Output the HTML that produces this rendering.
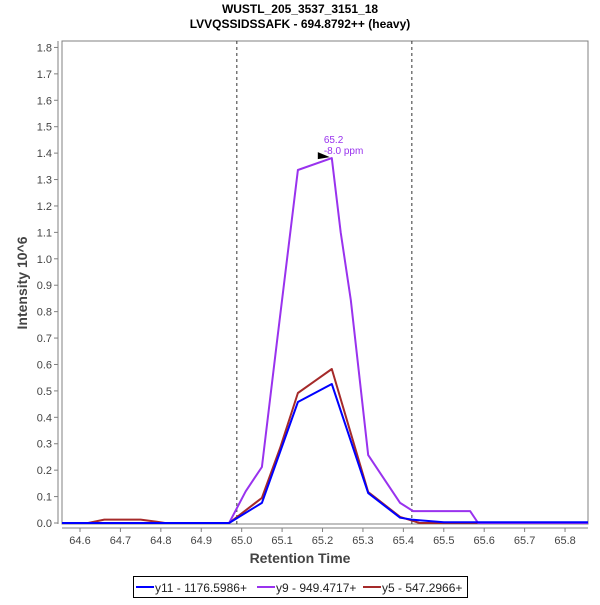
<!DOCTYPE html>
<html><head><meta charset="utf-8"><style>
body{margin:0;background:#fff;font-family:"Liberation Sans",sans-serif}
svg text{font-family:"Liberation Sans",sans-serif}
</style></head><body>
<svg id="chart" width="600" height="600" xmlns="http://www.w3.org/2000/svg">
<rect width="600" height="600" fill="#fff"/>
<text x="300" y="13" text-anchor="middle" font-size="12" font-weight="bold" fill="#000">WUSTL_205_3537_3151_18</text>
<text x="300" y="28" text-anchor="middle" font-size="12" font-weight="bold" fill="#000">LVVQSSIDSSAFK - 694.8792++ (heavy)</text>
<rect x="62" y="41" width="526" height="483" fill="none" stroke="#808080"/>
<g id="axes"></g>
<g id="series"></g>
<text x="300" y="563" text-anchor="middle" font-size="14" font-weight="bold" fill="#444">Retention Time</text>
<text transform="translate(27,283) rotate(-90)" text-anchor="middle" font-size="14" font-weight="bold" fill="#444">Intensity 10^6</text>
<g>
<rect x="133.5" y="576.5" width="334" height="21" fill="#fff" stroke="#000"/>
<line x1="136" y1="587" x2="154" y2="587" stroke="#0000ff" stroke-width="2"/>
<text x="155" y="592" font-size="12" fill="#222">y11 - 1176.5986+</text>
<line x1="257" y1="587" x2="275" y2="587" stroke="#9932ee" stroke-width="2"/>
<text x="276" y="592" font-size="12" fill="#222">y9 - 949.4717+</text>
<line x1="363" y1="587" x2="381" y2="587" stroke="#a52a2a" stroke-width="2"/>
<text x="382" y="592" font-size="12" fill="#222">y5 - 547.2966+</text>
</g>
</svg>
<script>
const xTicks=[64.6,64.7,64.8,64.9,65.0,65.1,65.2,65.3,65.4,65.5,65.6,65.7,65.8];
const yTicks=[0,0.1,0.2,0.3,0.4,0.5,0.6,0.7,0.8,0.9,1.0,1.1,1.2,1.3,1.4,1.5,1.6,1.7,1.8];
const boundaries=[64.988,65.421];
const y11Times=[64.55,64.969,65.05,65.139,65.223,65.313,65.392,65.424,65.50,65.9];
const y11Vals=[0,0,0.076,0.458,0.526,0.113,0.02,0.012,0.003,0.003];
const y9Times=[64.55,64.969,65.01,65.05,65.087,65.139,65.223,65.245,65.270,65.313,65.392,65.424,65.565,65.585,65.9];
const y9Vals=[0,0,0.12,0.212,0.681,1.336,1.381,1.10,0.844,0.257,0.076,0.045,0.045,0,0];
const y5Times=[64.55,64.62,64.66,64.75,64.79,64.81,64.969,65.05,65.095,65.139,65.223,65.313,65.392,65.424,65.44,65.9];
const y5Vals=[0,0,0.013,0.013,0.005,0,0,0.095,0.284,0.492,0.583,0.117,0.023,0.008,0,0];
const peakTime=65.223, peakVal=1.381;
const X=t=>80+(t-64.6)*404.2;
const Y=v=>523-v*264.2;
const cx=t=>Math.max(62,Math.min(588,X(t)));
const NS='http://www.w3.org/2000/svg';
function mk(tag,attrs,parent){const e=document.createElementNS(NS,tag);for(const k in attrs)e.setAttribute(k,attrs[k]);parent.appendChild(e);return e;}
const axes=document.getElementById('axes'), ser=document.getElementById('series');
mk('line',{x1:58,y1:41,x2:58,y2:524,stroke:'#808080'},axes);
mk('line',{x1:62,y1:528,x2:588,y2:528,stroke:'#808080'},axes);
xTicks.forEach(t=>{
  const tk=mk('line',{x1:X(t),y1:528,x2:X(t),y2:532,stroke:'#808080'},axes);
  
  
  const l=mk('text',{x:X(t),y:544,'text-anchor':'middle','font-size':11,fill:'#444'},axes);
  l.textContent=t.toFixed(1);
  
  
});
yTicks.forEach(v=>{
  const tk=mk('line',{x1:54,y1:Y(v),x2:58,y2:Y(v),stroke:'#808080'},axes);
  
  
  const l=mk('text',{x:52,y:Y(v)+4,'text-anchor':'end','font-size':11,fill:'#444'},axes);
  l.textContent=v.toFixed(1);
  
  
});
boundaries.forEach(t=>{
  const d=mk('line',{x1:X(t),y1:41,x2:X(t),y2:524,stroke:'#333','stroke-dasharray':'3,3'},ser);
  
  
});
function line(ts,vs,color,name){
  const pts=ts.map((t,i)=>cx(t).toFixed(1)+','+Y(vs[i]).toFixed(1)).join(' ');
  const p=mk('polyline',{points:pts,fill:'none',stroke:color,'stroke-width':2,'stroke-linejoin':'round'},ser);
  
  
}
line(y5Times,y5Vals,'#a52a2a','series-y5');
line(y9Times,y9Vals,'#9932ee','series-y9');
line(y11Times,y11Vals,'#0000ff','series-y11');
const px=X(peakTime), py=Y(peakVal);
const tri=mk('polygon',{points:`${px-14},${py-6} ${px-14},${py+1} ${px-2},${py-1}`,fill:'#000'},ser);


const a1=mk('text',{x:px-8,y:py-15,'font-size':10,fill:'#9932ee'},ser);a1.textContent=peakTime.toFixed(1);


const a2=mk('text',{x:px-8,y:py-4,'font-size':10,fill:'#9932ee'},ser);a2.textContent='-8.0 ppm';


</script>
</body></html>
